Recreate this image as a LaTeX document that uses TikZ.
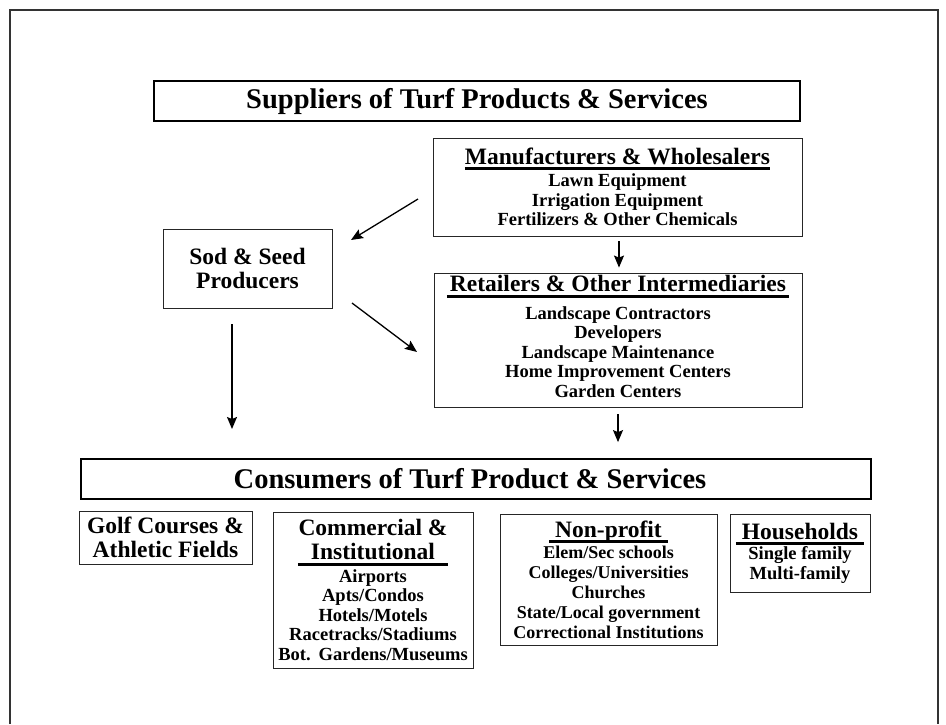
\documentclass[tikz,border=0pt]{standalone}
\usepackage{fontspec}
\setmainfont{Liberation Serif}
\usetikzlibrary{arrows.meta}
\newbox\ulb
\newcommand\ulbox[2][0pt]{\setbox\ulb=\hbox{#2}\leavevmode\rlap{\hskip-#1\rule[-6pt]{\dimexpr\wd\ulb+#1+#1\relax}{3pt}}\box\ulb}
\newcommand\hd{\fontsize{23.5}{24}\selectfont}
\tikzset{
  box/.style={draw=black!85, line width=0.9pt, align=center, inner sep=0pt,
    font=\bfseries\fontsize{18.5}{19.5}\selectfont},
  bigbox/.style={box, font=\bfseries\fontsize{23.5}{23.5}\selectfont},
  titlebox/.style={draw=black, line width=1.8pt, inner sep=0pt,
    font=\bfseries\fontsize{28.5}{30}\selectfont},
  arr/.style={-{Stealth[length=12pt,width=10pt,inset=2pt]}, line width=1.3pt},
}
\begin{document}
\begin{tikzpicture}[x=1pt,y=-1pt]
\useasboundingbox (0,0) rectangle (946,724);
\draw[line width=1.5pt, draw=black!80] (10,724) -- (10,10) -- (938,10) -- (938,724);

\node[titlebox, minimum width=646pt, minimum height=40pt] (sup) at (477,101)
  {Suppliers of Turf Products \& Services};

\node[box, minimum width=369pt, minimum height=98pt] (manu) at (617.5,187)
  {{\hd\ulbox{Manufacturers \& Wholesalers}}\\[3pt]
   Lawn Equipment\\ Irrigation Equipment\\ Fertilizers \& Other Chemicals};

\node[box, minimum width=368pt, minimum height=134pt] (retail) at (618,340)
  {{\hd\ulbox[3pt]{Retailers \& Other Intermediaries}}\\[8pt]
   Landscape Contractors\\ Developers\\ Landscape Maintenance\\
   Home Improvement Centers\\ Garden Centers\rule[-7pt]{0pt}{7pt}};

\node[bigbox, minimum width=169pt, minimum height=79pt] (sod) at (247.5,268.5)
  {Sod \& Seed\\ Producers};

\node[titlebox, minimum width=790pt, minimum height=40pt] (cons) at (476,479)
  {Consumers of Turf Product \& Services\hspace*{12pt}};

\node[bigbox, minimum width=173pt, minimum height=53pt] (golf) at (165.5,537.5)
  {Golf Courses \&\\ Athletic Fields};

\node[box, minimum width=200pt, minimum height=156pt] (comm) at (373,590)
  {{\hd Commercial \&}\\[4.5pt] {\hd\ulbox[13pt]{Institutional}}\\[3pt]
   Airports\\ Apts/Condos\\ Hotels/Motels\\ Racetracks/Stadiums\\ Bot.\hspace{8pt}Gardens/Museums};

\node[box, font=\bfseries\fontsize{18}{20}\selectfont, minimum width=217pt, minimum height=131pt] (nonp) at (608.5,579.5)
  {{\hd\ulbox[6pt]{Non-profit}}\\[1pt]
   Elem/Sec schools\\ Colleges/Universities\\ Churches\\ State/Local government\\ Correctional Institutions};

\node[box, minimum width=140pt, minimum height=78pt] (house) at (800,553)
  {{\hd\ulbox[6pt]{Households}}\\[1pt]
   Single family\\ Multi-family};

\coordinate (a1s) at (418,199);
\coordinate (a1e) at (351,240);
\coordinate (a2s) at (352,303);
\coordinate (a2e) at (417,352);
\coordinate (a3s) at (232,324);
\coordinate (a3e) at (232,429);

\draw[arr] (a1s) -- (a1e);
\draw[arr] (a2s) -- (a2e);
\draw[arr] (a3s) -- (a3e);
\draw[arr, shorten <=5pt, shorten >=5pt] ([xshift=1.5pt]manu.south) -- ([xshift=1.5pt]manu.south |- retail.north);
\draw[arr, shorten <=7pt, shorten >=16pt] (retail.south) -- (retail.south |- cons.north);
\end{tikzpicture}
\end{document}
